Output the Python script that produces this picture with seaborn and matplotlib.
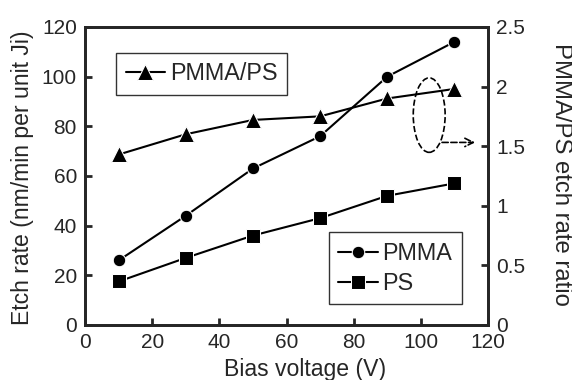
import matplotlib
matplotlib.use("Agg")
import matplotlib.pyplot as plt
import seaborn as sns
from matplotlib.patches import Ellipse

# values
bias = [10, 30, 50, 70, 90, 110]
pmma = [26, 44, 63, 76, 100, 114]
ps = [17.5, 27, 36, 43, 52, 57]
ratio = [1.43, 1.60, 1.72, 1.75, 1.90, 1.98]

sns.set_style("ticks")
plt.rcParams['font.family'] = ['Liberation Sans', 'DejaVu Sans']
plt.rcParams['font.size'] = 15

fig, ax = plt.subplots(figsize=(5.72, 3.8), dpi=100)
fig.subplots_adjust(left=0.149, right=0.853, top=0.929, bottom=0.145)
ax2 = ax.twinx()

sns.lineplot(x=bias, y=pmma, ax=ax, color='black', marker='o', markersize=9,
             lw=1.5, label='PMMA')
sns.lineplot(x=bias, y=ps, ax=ax, color='black', marker='s', markersize=10,
             lw=1.5, label='PS')
sns.lineplot(x=bias, y=ratio, ax=ax2, color='black', marker='^', markersize=11,
             lw=1.5, label='PMMA/PS')

ax.set_xlim(0, 120)
ax.set_ylim(0, 120)
ax2.set_ylim(0, 2.5)
ax.set_xticks(range(0, 121, 20))
ax.set_yticks(range(0, 121, 20))
ax2.set_yticks([0, 0.5, 1, 1.5, 2, 2.5])
ax2.set_yticklabels(['0', '0.5', '1', '1.5', '2', '2.5'])

ax.set_xlabel('Bias voltage (V)', fontsize=16.6)
ax.xaxis.set_label_coords(0.547, -0.112)
ax.set_ylabel('Etch rate (nm/min per unit Ji)', fontsize=16.6, va='center')
ax.yaxis.set_label_coords(-0.155, 0.493)
ax2.set_ylabel('PMMA/PS etch rate ratio', fontsize=17.2, rotation=270,
               va='center')
ax2.yaxis.set_label_coords(1.182, 0.505)

for a in (ax, ax2):
    a.tick_params(direction='in', length=5, width=2, labelsize=15, pad=6)
    for s in a.spines.values():
        s.set_linewidth(2)

leg1 = ax.legend(loc='lower right', bbox_to_anchor=(0.935, 0.07), frameon=True,
                 fancybox=False, edgecolor='black', handlelength=1.7,
                 handletextpad=0.2, borderpad=0.4, labelspacing=0.3,
                 borderaxespad=0, fontsize=16.8)
leg1.get_frame().set_linewidth(1)
leg2 = ax2.legend(loc='upper left', bbox_to_anchor=(0.077, 0.913), frameon=True,
                  fancybox=False, edgecolor='black', handlelength=1.7,
                  handletextpad=0.2, borderpad=0.4, borderaxespad=0,
                  fontsize=16.8)
leg2.get_frame().set_linewidth(1)

ax.add_patch(Ellipse((102.5, 84.5), 9.5, 30, fill=False, ls='--', lw=1.2,
                     edgecolor='black'))
ax.annotate('', xy=(117, 73.5), xytext=(105.5, 73.5),
            arrowprops=dict(arrowstyle='->', ls='--', lw=1.2, color='black'))

fig.savefig('out.png', dpi=100)
